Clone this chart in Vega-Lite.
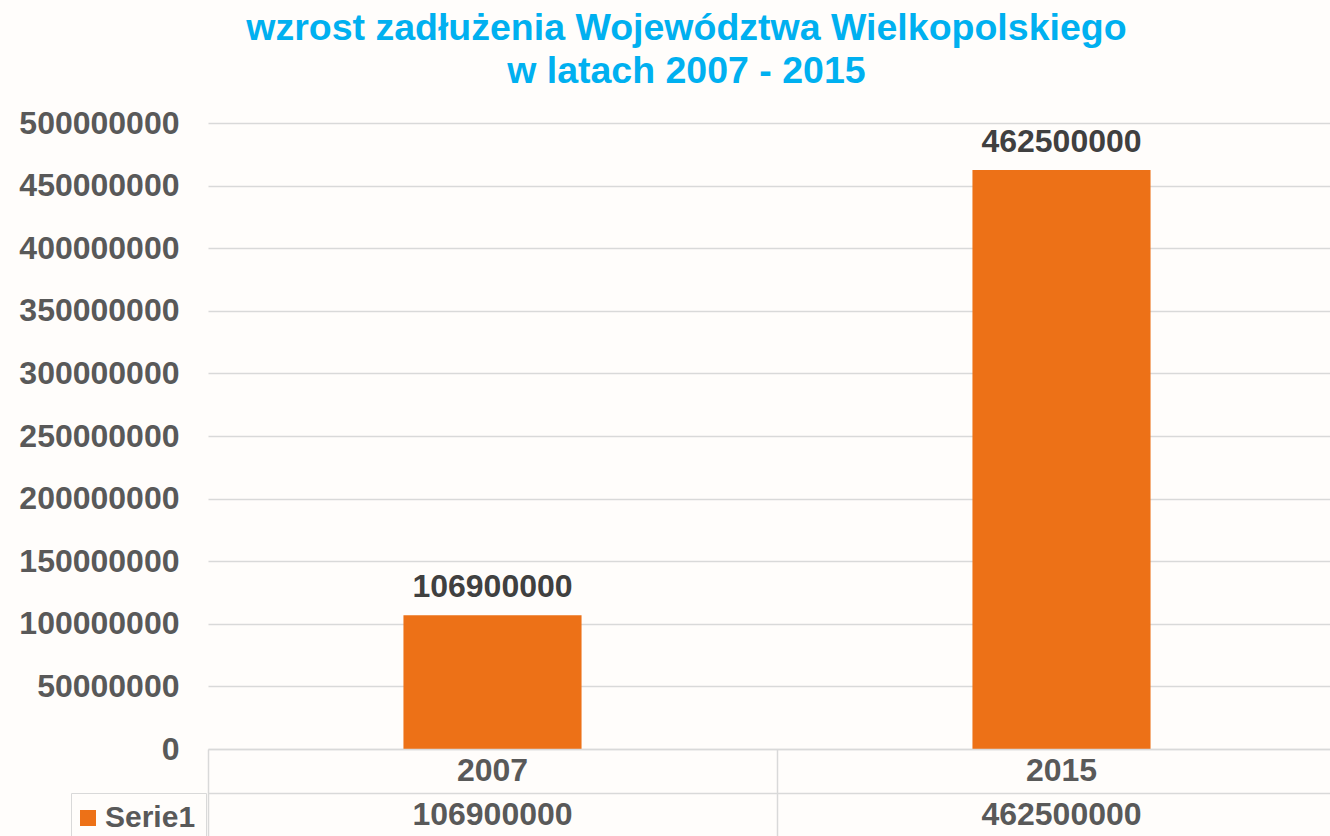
{
  "$schema": "https://vega.github.io/schema/vega-lite/v6.json",
  "padding": {"left": 18, "top": 9, "right": 0, "bottom": 0},
  "background": "#fffdfb",
  "bounds": "flush",
  "title": {
    "text": ["wzrost zadłużenia Województwa Wielkopolskiego", "w latach 2007 - 2015"],
    "font": "Liberation Sans",
    "fontSize": 37.5,
    "fontWeight": "bold",
    "color": "#00B0F0",
    "lineHeight": 43,
    "anchor": "middle",
    "frame": "bounds",
    "offset": 17,
    "dx": 4
  },
  "data": {
    "values": [
      {"rok": "2007", "wartosc": 106900000, "seria": "Serie1"},
      {"rok": "2015", "wartosc": 462500000, "seria": "Serie1"}
    ]
  },
  "spacing": 0,
  "resolve": {"scale": {"x": "independent", "y": "independent"}},
  "vconcat": [
    {
      "width": 1123,
      "height": 626,
      "encoding": {
        "x": {
          "field": "rok",
          "type": "nominal",
          "scale": {"domain": ["2007", "2015"], "range": [0, 1138], "paddingInner": 0, "paddingOuter": 0},
          "axis": null
        },
        "y": {
          "field": "wartosc",
          "type": "quantitative",
          "scale": {"domain": [0, 500000000], "nice": false},
          "axis": {
            "values": [0, 50000000, 100000000, 150000000, 200000000, 250000000, 300000000, 350000000, 400000000, 450000000, 500000000],
            "format": "d",
            "title": null,
            "labelFont": "Liberation Sans",
            "labelFontSize": 32,
            "labelFontWeight": "bold",
            "labelColor": "#595959",
            "labelPadding": 29,
            "ticks": false,
            "domain": false,
            "gridColor": "#d9d9d9",
            "gridWidth": 1.5
          }
        }
      },
      "layer": [
        {
          "mark": {"type": "bar", "width": {"band": 0.313}},
          "encoding": {
            "color": {
              "field": "seria",
              "type": "nominal",
              "scale": {"range": ["#ED7117"]},
              "legend": {
                "title": null,
                "orient": "none",
                "legendX": -137,
                "legendY": 670,
                "symbolType": "square",
                "symbolSize": 256,
                "symbolStrokeWidth": 0,
                "symbolOffset": -8,
                "labelFont": "Liberation Sans",
                "labelFontSize": 30,
                "labelFontWeight": "bold",
                "labelColor": "#595959",
                "labelOffset": 2,
                "strokeColor": "#d9d9d9",
                "padding": 10
              }
            }
          }
        },
        {
          "mark": {"type": "text", "baseline": "alphabetic", "dy": -18, "font": "Liberation Sans", "fontSize": 32, "fontWeight": "bold", "color": "#404040"},
          "encoding": {"text": {"field": "wartosc", "type": "quantitative", "format": "d"}}
        }
      ]
    },
    {
      "width": 1123,
      "height": 88,
      "encoding": {
        "x": {
          "field": "rok",
          "type": "nominal",
          "scale": {"domain": ["2007", "2015"], "range": [0, 1138], "paddingInner": 0, "paddingOuter": 0},
          "axis": {
            "orient": "top",
            "tickBand": "extent",
            "labels": false,
            "ticks": false,
            "domain": false,
            "title": null,
            "grid": true,
            "gridColor": "#d9d9d9",
            "gridWidth": 1.5
          }
        }
      },
      "layer": [
        {
          "mark": {"type": "text", "baseline": "middle", "font": "Liberation Sans", "fontSize": 32, "fontWeight": "bold", "color": "#595959"},
          "encoding": {
            "y": {
              "datum": "kategoria",
              "type": "nominal",
              "scale": {"domain": ["kategoria", "Serie1"], "paddingInner": 0, "paddingOuter": 0},
              "axis": {
                "tickBand": "extent",
                "labels": false,
                "ticks": false,
                "domain": false,
                "title": null,
                "grid": true,
                "gridColor": "#d9d9d9",
                "gridWidth": 1.5
              }
            },
            "text": {"field": "rok", "type": "nominal"}
          }
        },
        {
          "mark": {"type": "text", "baseline": "middle", "font": "Liberation Sans", "fontSize": 32, "fontWeight": "bold", "color": "#595959"},
          "encoding": {
            "y": {"datum": "Serie1", "type": "nominal"},
            "text": {"field": "wartosc", "type": "quantitative", "format": "d"}
          }
        }
      ]
    }
  ],
  "config": {
    "view": {"stroke": null},
    "text": {"font": "Liberation Sans"}
  }
}
